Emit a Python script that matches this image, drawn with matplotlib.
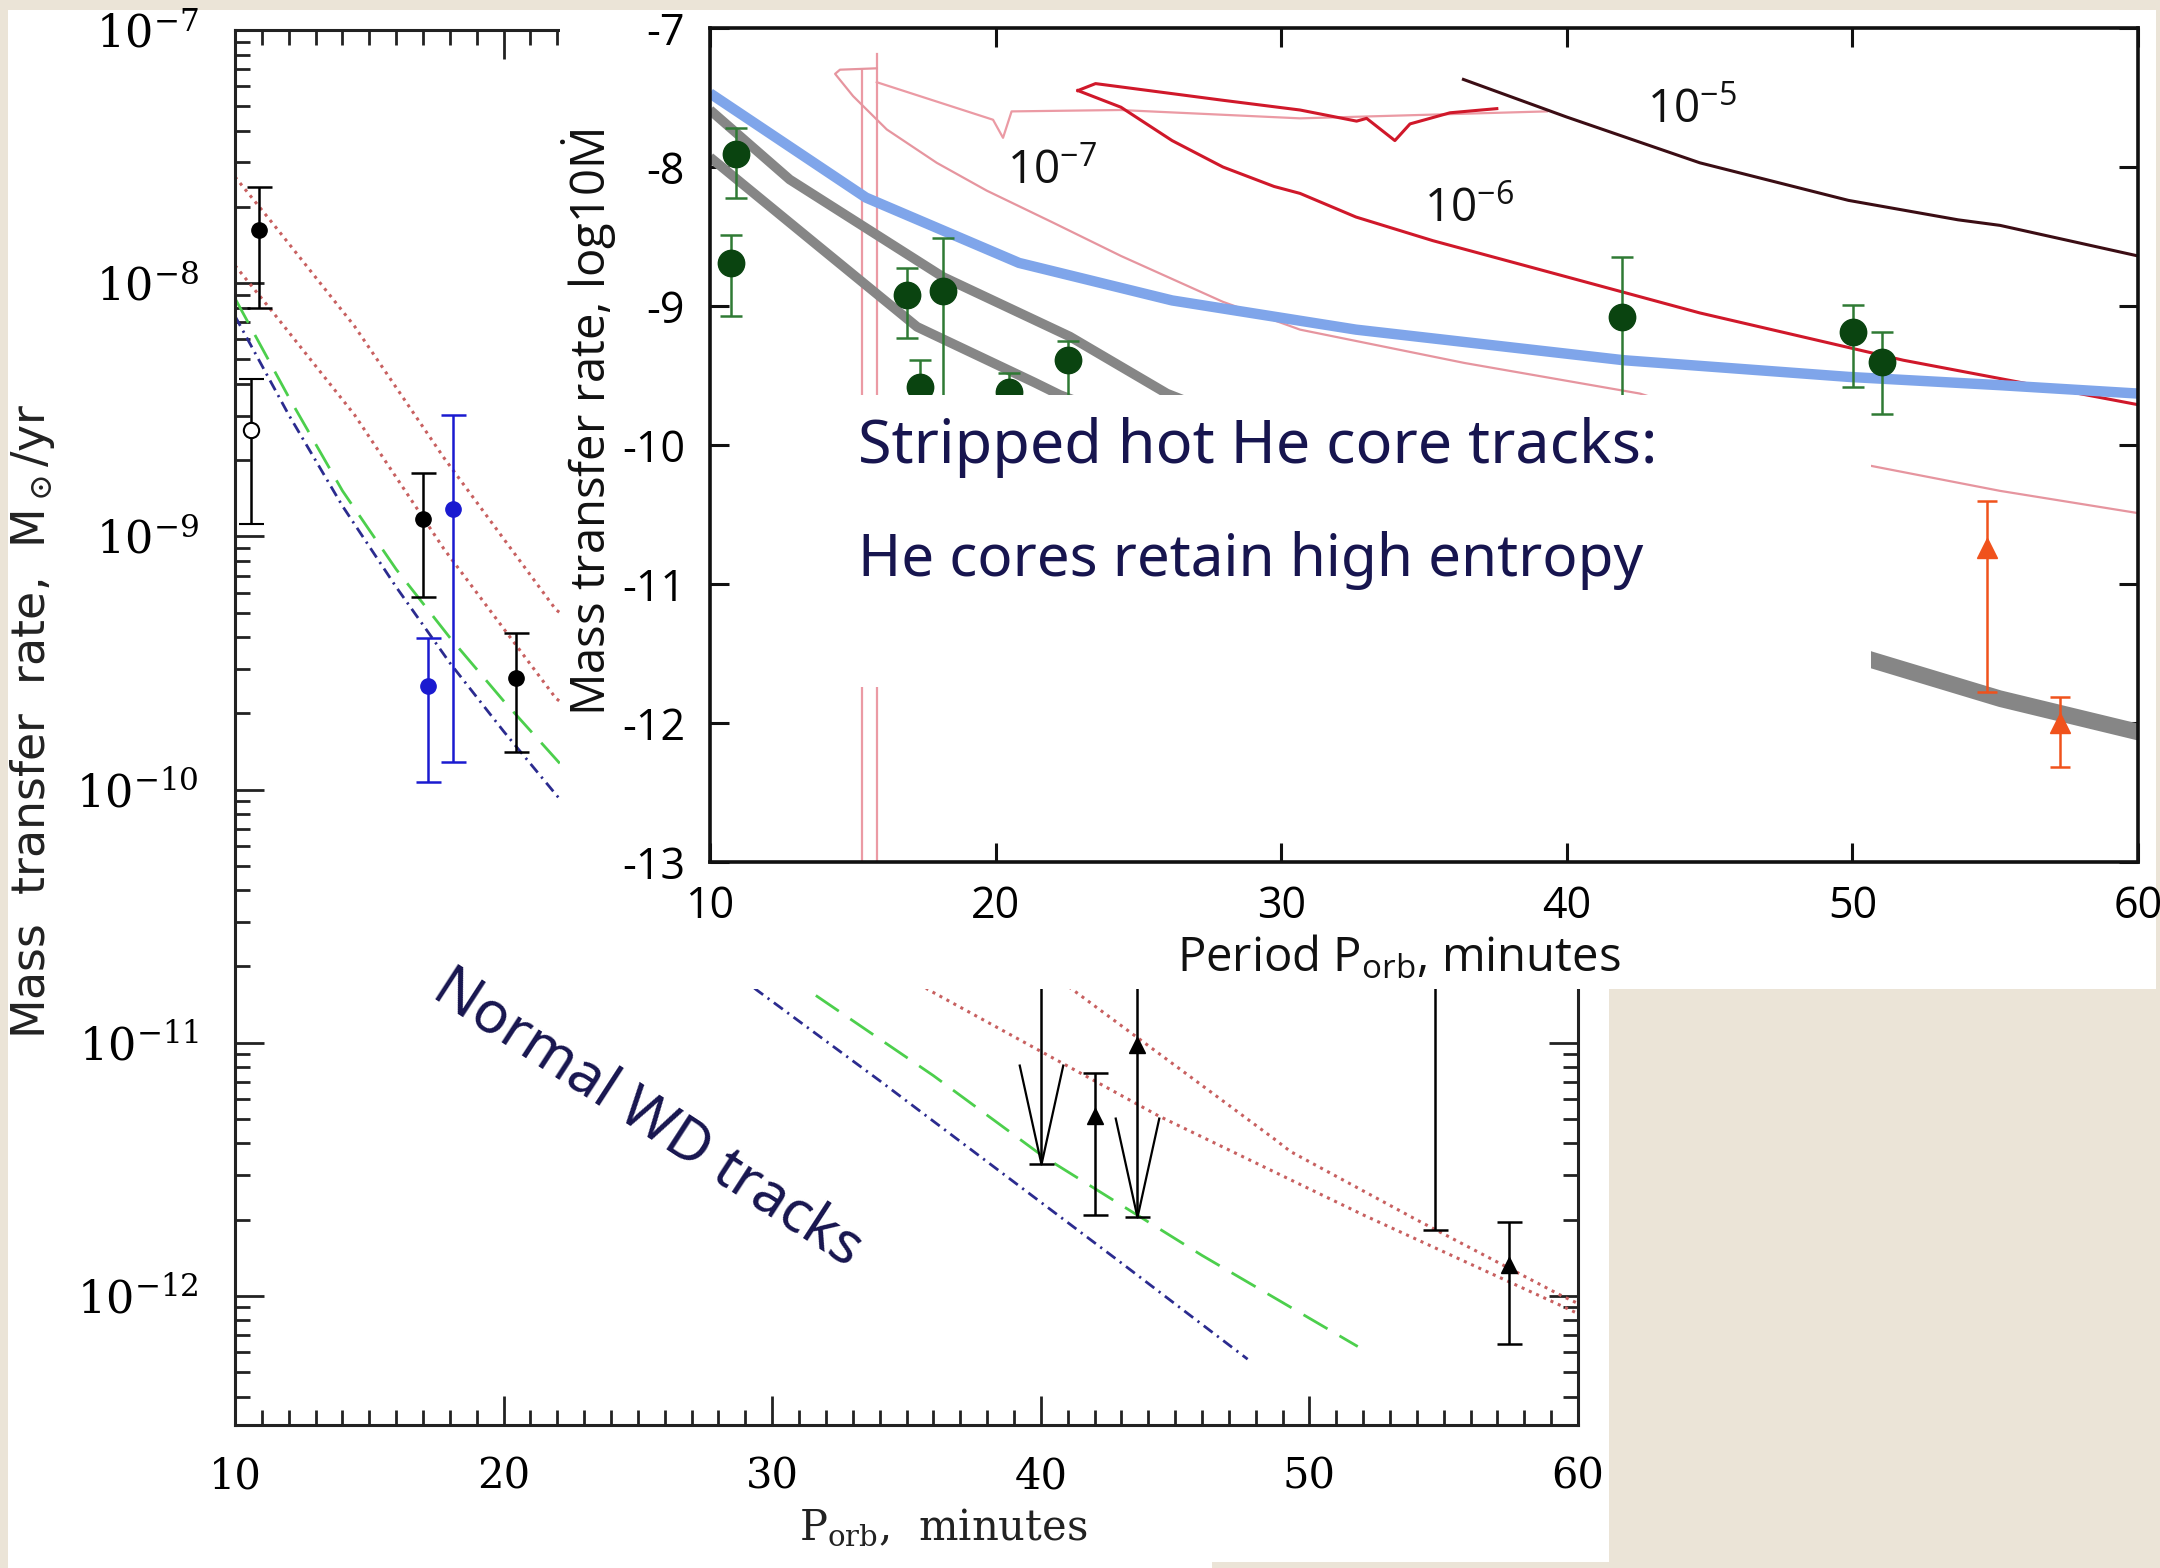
import numpy as np
import matplotlib
matplotlib.use('Agg')
import matplotlib.pyplot as plt
from matplotlib.patches import Rectangle
from matplotlib.path import Path
from matplotlib.ticker import LogLocator, NullFormatter
from matplotlib import font_manager

# ---------------- left panel: normal WD tracks (P in min, log10 Mdot) ----------------
dot1_p = [10, 11.45, 14.45, 17.78, 21.95, 30.0, 41.18, 45.0, 48.69, 49.3, 54.0, 59.4, 60.0]
dot1_lg = [-7.58, -7.77, -8.17, -8.69, -9.29, -9.92, -10.79, -11.09, -11.38, -11.43, -11.70, -12.00, -12.03]
dot2_p = [10, 11.45, 14.45, 17.78, 21.95, 30.0, 35.8, 44.4, 52.0, 59.4, 60.0]
dot2_lg = [-7.93, -8.12, -8.52, -9.05, -9.64, -10.30, -10.79, -11.29, -11.68, -12.04, -12.07]
dash_p = [10, 12, 14, 16, 18, 20, 21.95, 26, 31.3, 36, 40.1, 46, 51.8]
dash_lg = [-8.06, -8.45, -8.82, -9.13, -9.40, -9.65, -9.88, -10.36, -10.79, -11.13, -11.45, -11.84, -12.20]
dashdot_p = [10, 12, 14, 16, 18, 20, 21.95, 25, 29.4, 34, 38, 43, 47.7]
dashdot_lg = [-8.13, -8.52, -8.88, -9.20, -9.50, -9.77, -10.02, -10.40, -10.79, -11.15, -11.47, -11.87, -12.25]

# black filled points
pt_p = [10.9, 17.0, 20.45]
pt_lg = [-7.79, -8.93, -9.56]
pt_lo = [-8.10, -9.24, -9.85]
pt_hi = [-7.62, -8.75, -9.38]
# open circle
open_p = [10.6]
open_lg = [-8.58]
open_lo = [-8.95]
open_hi = [-8.38]
# blue points
bpt_p = [17.2, 18.1]
bpt_lg = [-9.59, -8.89]
bpt_lo = [-9.97, -9.89]
bpt_hi = [-9.40, -8.52]
# triangles
tri_p = [42.0, 43.58, 57.43]
tri_lg = [-11.29, -11.01, -11.88]
tri_lo = [-11.68, -11.69, -12.19]
tri_hi = [-11.12, -10.30, -11.71]
# bars running up under the inset, and arrow tips
ul_p = [40.0, 54.69]
ul_lo = [-11.48, -11.74]
ul_hi = [-10.30, -10.30]
arrow_p = [40.0, 43.58]
arrow_lg = [-11.48, -11.69]

# ---------------- inset: stripped hot He core tracks ----------------
blue_p = [10, 15.46, 20.82, 26.18, 32.62, 41.99, 49.86, 55.2, 60]
blue_lg = [-7.47, -8.22, -8.69, -8.96, -9.17, -9.39, -9.51, -9.57, -9.63]
gray1_p = [10, 12.79, 18.15, 22.6, 26.0, 38.0, 50.65, 55.17, 60]
gray1_lg = [-7.59, -8.09, -8.79, -9.22, -9.63, -10.60, -11.52, -11.80, -12.04]
gray2_p = [10, 13.68, 17.25, 21.36, 22.25, 36.0, 50.65, 55.17, 60]
gray2_lg = [-7.93, -8.55, -9.15, -9.55, -9.64, -10.70, -11.57, -11.85, -12.09]

pink_v1_p = [15.31, 15.31]
pink_v1_lg = [-13.0, -7.30]
pink_v2_p = [15.84, 15.84]
pink_v2_lg = [-13.0, -7.19]
pink_loop_p = [15.84, 14.55, 14.38, 15.01, 16.19, 17.94, 19.69, 22.01, 24.39, 27.96, 30.66,
               36.42, 42.56, 50.65, 55.17, 60.0]
pink_loop_lg = [-7.29, -7.30, -7.33, -7.49, -7.73, -7.97, -8.17, -8.40, -8.64, -8.97, -9.17,
                -9.41, -9.63, -10.15, -10.33, -10.49]
pink_top_p = [15.84, 19.91, 20.26, 20.56, 24.36, 30.66, 39.3]
pink_top_lg = [-7.39, -7.66, -7.79, -7.60, -7.59, -7.65, -7.60]

red_top_p = [22.88, 23.5, 27.96, 30.66, 32.64, 32.99, 33.98, 34.51, 35.91, 37.55]
red_top_lg = [-7.45, -7.40, -7.52, -7.59, -7.67, -7.65, -7.81, -7.69, -7.61, -7.58]
red_low_p = [22.88, 24.39, 26.18, 27.96, 29.75, 30.66, 32.62, 35.31, 39.99, 44.66, 51.78, 60.0]
red_low_lg = [-7.45, -7.57, -7.81, -8.00, -8.14, -8.19, -8.36, -8.53, -8.79, -9.05, -9.39, -9.71]
dark_p = [36.38, 39.99, 44.66, 49.86, 53.7, 55.17, 60.0]
dark_lg = [-7.37, -7.64, -7.97, -8.24, -8.38, -8.42, -8.64]

grn_p = [10.91, 10.74, 16.90, 18.15, 17.34, 20.47, 22.52, 41.92, 50.02, 51.02]
grn_lg = [-7.91, -8.69, -8.92, -8.89, -9.58, -9.62, -9.39, -9.08, -9.19, -9.40]
grn_lo = [-8.22, -9.07, -9.23, -9.90, -10.00, -10.00, -9.80, -9.90, -9.58, -9.78]
grn_hi = [-7.72, -8.49, -8.73, -8.51, -9.39, -9.48, -9.25, -8.65, -8.99, -9.19]
org_p = [54.70, 57.27]
org_lg = [-10.74, -12.00]
org_lo = [-11.78, -12.32]
org_hi = [-10.40, -11.81]

track_lab = ['10^{-7}', '10^{-6}', '10^{-5}']
track_lab_p = [21.97, 36.58, 44.38]
track_lab_lg = [-8.03, -8.30, -7.59]

W, H = 2160, 1568
names = {f.name for f in font_manager.fontManager.ttflist}
narrow = 'Liberation Sans Narrow' if 'Liberation Sans Narrow' in names else 'Open Sans'
slide_font = 'Noto Sans'
navy = '#17154f'
plt.rcParams['mathtext.fontset'] = 'dejavuserif'
plt.rcParams['mathtext.rm'] = narrow


def box(x0, y0, x1, y1):
    return [x0 / W, 1 - y1 / H, (x1 - x0) / W, (y1 - y0) / H]


def lg(v):
    return 10.0 ** np.asarray(v, dtype=float)


fig = plt.figure(figsize=(21.6, 15.68), dpi=100, facecolor='#ebe4d7')


def sheet(x0, y0, x1, y1, z):
    b = box(x0, y0, x1, y1)
    fig.add_artist(Rectangle((b[0], b[1]), b[2], b[3], transform=fig.transFigure,
                             facecolor='white', edgecolor='none', zorder=z))


sheet(8, 10, 1609, 1562, 0.2)
sheet(8, 1562, 1212, 1568, 0.2)

# ---- left plot ----
ax = fig.add_axes(box(235, 30, 1578, 1425), zorder=1)
ax.patch.set_visible(False)
ax.set_yscale('log')
ax.set_xlim(10, 60)
ax.set_ylim(10 ** -12.51, 1e-7)

ax.plot(dot1_p, lg(dot1_lg), color='#c86060', lw=2.2, ls=(0, (1, 1.6)))
ax.plot(dot2_p, lg(dot2_lg), color='#c86060', lw=2.2, ls=(0, (1, 1.6)))
ax.plot(dash_p, lg(dash_lg), color='#4ccf4c', lw=2, ls=(0, (10, 5)))
ax.plot(dashdot_p, lg(dashdot_lg), color='#2b2b8f', lw=2, ls=(0, (4, 2, 0.8, 2)))


def ebar(a, p, v, lo, hi, **kw):
    v = lg(v)
    a.errorbar(p, v, yerr=[v - lg(lo), lg(hi) - v], **kw)


ebar(ax, pt_p, pt_lg, pt_lo, pt_hi, fmt='o', color='black', ms=11, capsize=9,
     elinewidth=1.8, capthick=1.8)
ebar(ax, open_p, open_lg, open_lo, open_hi, fmt='o', color='black', mfc='white', ms=11,
     mew=1.5, capsize=9, elinewidth=1.8, capthick=1.8)
ebar(ax, bpt_p, bpt_lg, bpt_lo, bpt_hi, fmt='o', color='#1a1ad0', ms=11, capsize=9,
     elinewidth=1.8, capthick=1.8)
ebar(ax, tri_p, tri_lg, tri_lo, tri_hi, fmt='^', color='black', ms=11, capsize=9,
     elinewidth=1.8, capthick=1.8)
ebar(ax, ul_p, ul_hi, ul_lo, ul_hi, fmt='none', ecolor='black', capsize=9,
     elinewidth=1.8, capthick=1.8)
vee = Path([(-0.22, 1.0), (0.0, 0.0), (0.22, 1.0)], [Path.MOVETO, Path.LINETO, Path.LINETO])
ax.plot(arrow_p, lg(arrow_lg), ls='none', marker=vee, ms=144, mfc='none', mec='black', mew=1.6)

ax.set_xticks([10, 20, 30, 40, 50, 60])
ax.set_xticks(np.arange(10, 61, 1), minor=True)
ax.set_yticks(lg([-12, -11, -10, -9, -8, -7]))
ax.set_yticklabels([r'$10^{-12}$', r'$10^{-11}$', r'$10^{-10}$', r'$10^{-9}$',
                    r'$10^{-8}$', r'$10^{-7}$'])
ax.yaxis.set_minor_locator(LogLocator(base=10, subs=np.arange(2, 10)))
ax.yaxis.set_minor_formatter(NullFormatter())
ax.tick_params(which='both', direction='in', top=True, right=True, width=2, color='#222222')
ax.tick_params(which='major', length=21)
ax.tick_params(which='minor', length=11)
ax.tick_params(axis='y', which='major', labelsize=32, pad=26)
ax.tick_params(axis='x', which='major', labelsize=30, pad=22, labelfontfamily='DejaVu Serif')
for s in ax.spines.values():
    s.set_linewidth(2.2)
    s.set_color('#222222')

fig.text(33 / W, 1 - 721 / H, r'Mass  transfer  rate,  M$_\odot$/yr', rotation=90,
         ha='center', va='center', fontsize=33, family='DejaVu Sans', color='#222222')
fig.text(943 / W, 1 - 1527 / H, r'P$_{\rm orb}$,  minutes', ha='center', va='center',
         fontsize=30, family='DejaVu Serif', color='#222222')

fig.text(648 / W, 1 - 1118 / H, 'Normal WD tracks', rotation=-33, rotation_mode='anchor',
         ha='center', va='center', fontsize=42, family=slide_font, color=navy, zorder=5)

# ---- inset ----
sheet(560, 10, 2156, 989, 2)
ins = fig.add_axes(box(710, 28, 2138, 862), zorder=3)
ins.patch.set_visible(False)
ins.set_xlim(10, 60)
ins.set_ylim(-13, -7)

ins.plot(pink_v1_p, pink_v1_lg, color='#eb9aa4', lw=1.6)
ins.plot(pink_v2_p, pink_v2_lg, color='#eb9aa4', lw=1.6)
ins.plot(pink_loop_p, pink_loop_lg, color='#e6959f', lw=1.6)
ins.plot(pink_top_p, pink_top_lg, color='#eb9aa4', lw=1.6)
ins.plot(red_top_p, red_top_lg, color='#d0182a', lw=2.2)
ins.plot(red_low_p, red_low_lg, color='#d0182a', lw=2.2)
ins.plot(dark_p, dark_lg, color='#3b0d14', lw=2.2)
ins.plot(gray2_p, gray2_lg, color='#868686', lw=7, solid_capstyle='butt')
ins.plot(gray1_p, gray1_lg, color='#868686', lw=7, solid_capstyle='butt')
ins.plot(blue_p, blue_lg, color='#7fa5ea', lw=7.5, solid_capstyle='butt')

gv = np.asarray(grn_lg)
ins.errorbar(grn_p, gv, yerr=[gv - np.asarray(grn_lo), np.asarray(grn_hi) - gv], fmt='o',
             ms=19, mfc='#0a4410', mec='#0a4410', ecolor='#2f7a34', elinewidth=1.8,
             capsize=8, capthick=1.8)
ov = np.asarray(org_lg)
ins.errorbar(org_p, ov, yerr=[ov - np.asarray(org_lo), np.asarray(org_hi) - ov], fmt='^',
             ms=14, color='#f0521c', elinewidth=1.8, capsize=7, capthick=1.8)

for t, p, v in zip(track_lab, track_lab_p, track_lab_lg):
    ins.text(p, v, r'$\mathrm{' + t + '}$', ha='center', va='center', fontsize=33,
             math_fontfamily='custom', color='#111111')

ins.set_xticks([10, 20, 30, 40, 50, 60])
ins.set_xticklabels(['10', '20', '30', '40', '50', '60'])
ins.set_yticks([-13, -12, -11, -10, -9, -8, -7])
ins.set_yticklabels(['-13', '-12', '-11', '-10', '-9', '-8', '-7'])
ins.tick_params(direction='in', top=True, right=True, length=14, width=2.2, color='#111111',
                labelsize=31, labelfontfamily=narrow)
ins.tick_params(axis='y', pad=18)
ins.tick_params(axis='x', pad=16)
for s in ins.spines.values():
    s.set_linewidth(2.6)
    s.set_color('#111111')

fig.text(1399 / W, 1 - 958 / H, r'Period P$_{\mathrm{orb}}$, minutes', ha='center', va='center',
         fontsize=34, family=narrow, math_fontfamily='custom', color='#111111', zorder=5)
fig.text(589 / W, 1 - 422 / H, r'Mass transfer rate, log10$\dot{\mathrm{M}}$', rotation=90,
         ha='center', va='center', fontsize=34, family=narrow, math_fontfamily='custom',
         color='#111111', zorder=5)

# ---- caption box over the inset ----
sheet(838, 395, 1871, 687, 4)
fig.text(858 / W, 1 - 448 / H, 'Stripped hot He core tracks:', ha='left', va='center',
         fontsize=44, family=slide_font, color=navy, zorder=5)
fig.text(858 / W, 1 - 561 / H, 'He cores retain high entropy', ha='left', va='center',
         fontsize=42, family=slide_font, color=navy, zorder=5)

fig.savefig('out.png', dpi=100, facecolor=fig.get_facecolor())
